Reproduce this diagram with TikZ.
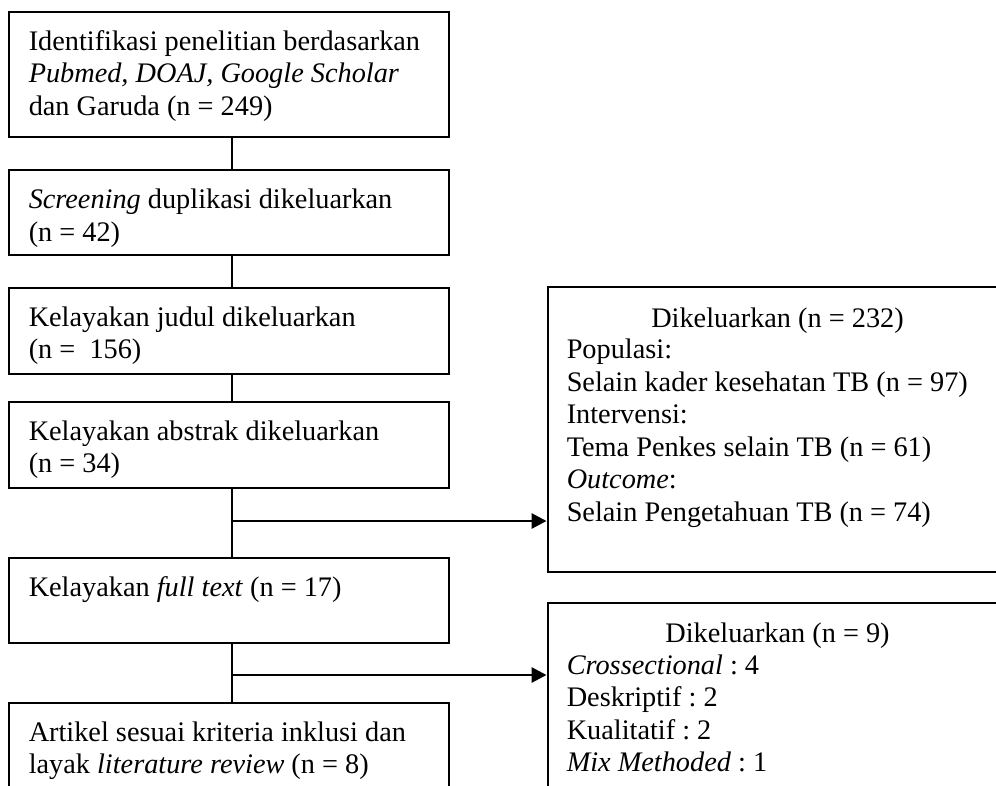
\documentclass[tikz,border=0pt]{standalone}
\usepackage{fontspec}
\setmainfont{Liberation Serif}
\usetikzlibrary{arrows.meta,calc,fit}
\tikzset{
  box/.style={draw, line width=2.9pt, inner sep=0pt, fit={#1}},
  txt/.style={anchor=north west, inner sep=0pt, align=left, font=\fontsize{28.3}{32.5}\selectfont\frenchspacing},
  hdr/.style={anchor=base, inner sep=0pt, font=\fontsize{28.3}{32.5}\selectfont\frenchspacing},
  conn/.style={line width=2.9pt},
  arr/.style={line width=2.9pt, -{Triangle[length=15pt,width=15pt]}}
}
\begin{document}
\begin{tikzpicture}[x=1pt,y=-1pt]
\useasboundingbox (0,0) rectangle (996,785);
\clip (0,0) rectangle (996,785);
% left boxes
\node[box={(9,12) (449,137)}] (L1) {};
\node[box={(9,170) (449,255)}] (L2) {};
\node[box={(9,288) (449,374)}] (L3) {};
\node[box={(9,402) (449,488)}] (L4) {};
\node[box={(9,558) (449,643)}] (L5) {};
\node[box={(9,703) (449,810)}] (L6) {};
% right boxes
\node[box={(548,287) (1008,572)}] (R1) {};
\node[box={(548,603) (1008,810)}] (R2) {};
% texts
\node[txt] (T1) at ($(L1.north west)+(21,16.75)$) {\strut Identifikasi penelitian berdasarkan\\\strut\textit{Pubmed, DOAJ, Google Scholar}\\\strut dan Garuda (n = 249)};
\node[txt] (T2) at ($(L2.north west)+(21,17.25)$) {\strut\textit{Screening} duplikasi dikeluarkan\\\strut(n = 42)};
\node[txt] (T3) at ($(L3.north west)+(21,16.75)$) {\strut Kelayakan judul dikeluarkan\\\strut(n =\ \ 156)};
\node[txt] (T4) at ($(L4.north west)+(21,16.75)$) {\strut Kelayakan abstrak dikeluarkan\\\strut(n = 34)};
\node[txt] (T5) at ($(L5.north west)+(21,17.25)$) {\strut Kelayakan \textit{full text} (n = 17)};
\node[txt] (T6) at ($(L6.north west)+(21,16.75)$) {\strut Artikel sesuai kriteria inklusi dan\\\strut layak \textit{literature review} (n = 8)};
\node[hdr] (H1) at (777.5,327) {Dikeluarkan (n = 232)};
\node[txt] (B1) at ($(R1.north west)+(20,50)$) {\strut Populasi:\\\strut Selain kader kesehatan TB (n = 97)\\\strut Intervensi:\\\strut Tema Penkes selain TB (n = 61)\\\strut\textit{Outcome}:\\\strut Selain Pengetahuan TB (n = 74)};
\node[hdr] (H2) at (777.5,642) {Dikeluarkan (n = 9)};
\node[txt] (B2) at ($(R2.north west)+(20,49.5)$) {\strut\textit{Crossectional} : 4\\\strut Deskriptif : 2\\\strut Kualitatif : 2\\\strut\textit{Mix Methoded} : 1};
% connectors
\draw[conn] ([xshift=3pt]L1.south) -- ([xshift=3pt]L2.north);
\draw[conn] ([xshift=3pt]L2.south) -- ([xshift=3pt]L3.north);
\draw[conn] ([xshift=3pt]L3.south) -- ([xshift=3pt]L4.north);
\draw[conn] ([xshift=3pt]L4.south) -- ([xshift=3pt]L5.north);
\draw[conn] ([xshift=3pt]L5.south) -- ([xshift=3pt]L6.north);
\coordinate (J1) at (232,521);
\coordinate (J2) at (232,675);
\draw[arr] (J1) -- (J1 -| R1.west);
\draw[arr] (J2) -- (J2 -| R2.west);
\end{tikzpicture}
\end{document}
